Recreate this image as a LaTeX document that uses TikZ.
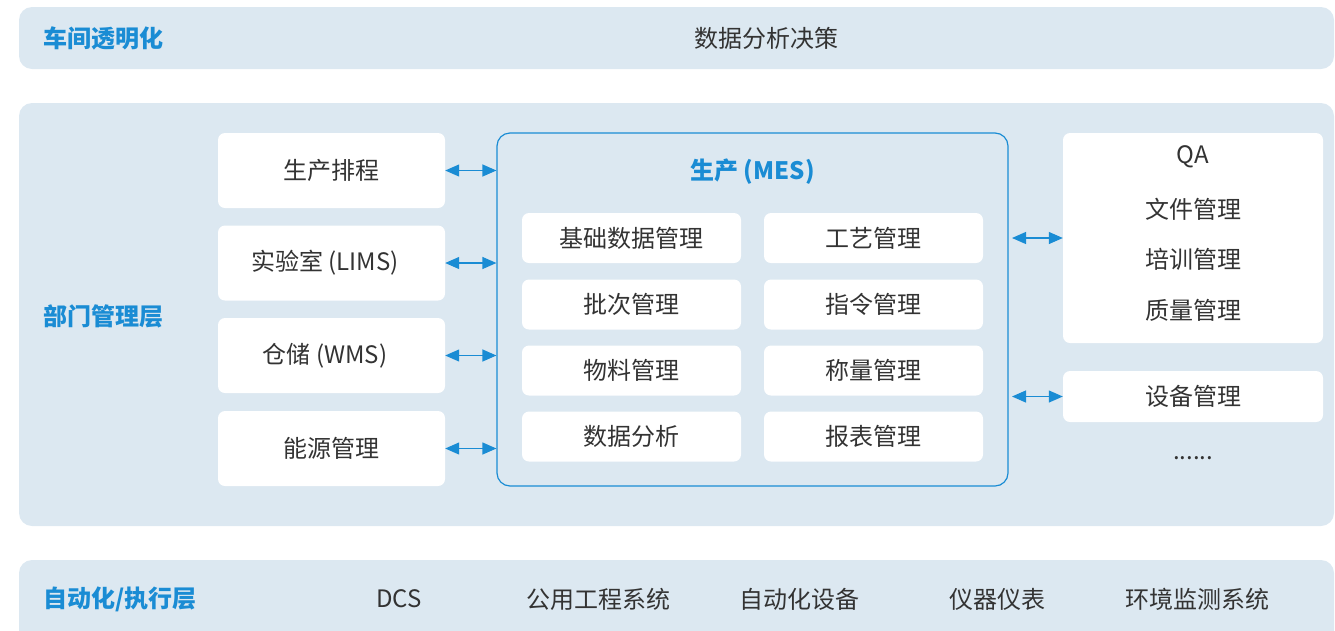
\documentclass[tikz,border=0pt]{standalone}
\usepackage{fontspec}
\setmainfont{Noto Sans CJK SC}
\usetikzlibrary{arrows.meta}
\definecolor{bandfill}{HTML}{DCE8F1}
\definecolor{blueaccent}{HTML}{1A8CD4}
\definecolor{txt}{HTML}{333333}
\tikzset{
  band/.style={fill=bandfill, draw=none, rounded corners=13pt},
  layerlabel/.style={anchor=west, inner sep=0pt, text=blueaccent, font=\fontsize{24}{28}\selectfont\bfseries},
  plain/.style={inner sep=0pt, text=txt, font=\fontsize{24}{28}\selectfont},
  whitebox/.style={fill=white, draw=none, rounded corners=7pt, inner sep=0pt, text=txt, font=\fontsize{24}{28}\selectfont},
  mesbox/.style={draw=blueaccent, line width=1.2pt, rounded corners=13pt, fill=bandfill, inner sep=0pt},
  biarrow/.style={draw=blueaccent, line width=1.2pt, {Triangle[length=14pt,width=12pt]}-{Triangle[length=14pt,width=12pt]}},
}
\begin{document}
\begin{tikzpicture}[x=1pt,y=-1pt]
\useasboundingbox (0,0) rectangle (1335,630);
\clip (0,0) rectangle (1335,630);
% bands
\path[band] (19,7) rectangle (1334,69);
\path[band] (19,103) rectangle (1334,526);
\path[band] (19,560) rectangle (1334,660);
% top layer
\node[layerlabel] (l1) at (43,38) {车间透明化};
\node[plain] (t1) at (766,38) {数据分析决策};
% middle layer
\node[layerlabel] (l2) at (43,316) {部门管理层};
% left boxes
\node[whitebox, minimum width=227pt, minimum height=75pt] (b1) at (331.5,170.5) {生产排程};
\node[whitebox, minimum width=227pt, minimum height=75pt] (b2) at (331.5,263) {实验室 (LIMS)\hspace*{13pt}};
\node[whitebox, minimum width=227pt, minimum height=75pt] (b3) at (331.5,355.5) {仓储 (WMS)\hspace*{13pt}};
\node[whitebox, minimum width=227pt, minimum height=75pt] (b4) at (331.5,448.5) {能源管理};
% MES box
\node[mesbox, minimum width=511pt, minimum height=353pt] (mes) at (752.5,309.5) {};
\node[inner sep=0pt, text=blueaccent, font=\fontsize{24}{28}\selectfont\bfseries] (mest) at (752.5,172) {生产 (MES)};
\node[whitebox, minimum width=219pt, minimum height=50pt] (m1) at (631.5,238) {基础数据管理};
\node[whitebox, minimum width=219pt, minimum height=50pt] (m2) at (873.5,238) {工艺管理};
\node[whitebox, minimum width=219pt, minimum height=50pt] (m3) at (631.5,304.5) {批次管理};
\node[whitebox, minimum width=219pt, minimum height=50pt] (m4) at (873.5,304.5) {指令管理};
\node[whitebox, minimum width=219pt, minimum height=50pt] (m5) at (631.5,370.5) {物料管理};
\node[whitebox, minimum width=219pt, minimum height=50pt] (m6) at (873.5,370.5) {称量管理};
\node[whitebox, minimum width=219pt, minimum height=50pt] (m7) at (631.5,436.5) {数据分析};
\node[whitebox, minimum width=219pt, minimum height=50pt] (m8) at (873.5,436.5) {报表管理};
% right boxes
\node[whitebox, minimum width=260pt, minimum height=210pt] (qa) at (1193,238) {};
\node[plain] (qa1) at (1193,157) {QA};
\node[plain] (qa2) at (1193,209) {文件管理};
\node[plain] (qa3) at (1193,259) {培训管理};
\node[plain] (qa4) at (1193,310) {质量管理};
\node[whitebox, minimum width=260pt, minimum height=51pt] (eq) at (1193,396.5) {设备管理};
\node[plain] (dots) at (1193,458) {......};
% arrows
\coordinate (a1) at (mes.west |- b1.east);
\coordinate (a2) at (mes.west |- b2.east);
\coordinate (a3) at (mes.west |- b3.east);
\coordinate (a4) at (mes.west |- b4.east);
\draw[biarrow] (b1.east) -- (a1);
\draw[biarrow] (b2.east) -- (a2);
\draw[biarrow] (b3.east) -- (a3);
\draw[biarrow] (b4.east) -- (a4);
\coordinate (r1) at (1012,238);
\coordinate (r2) at (1012,396.5);
\draw[biarrow] (r1) -- (qa.west);
\draw[biarrow] (r2) -- (eq.west);
% bottom layer
\node[layerlabel] (l3) at (43,599) {自动化/执行层};
\node[plain] (d1) at (399,599) {DCS};
\node[plain] (d2) at (598,599) {公用工程系统};
\node[plain] (d3) at (799,599) {自动化设备};
\node[plain] (d4) at (997,599) {仪器仪表};
\node[plain] (d5) at (1197,599) {环境监测系统};
\end{tikzpicture}
\end{document}
